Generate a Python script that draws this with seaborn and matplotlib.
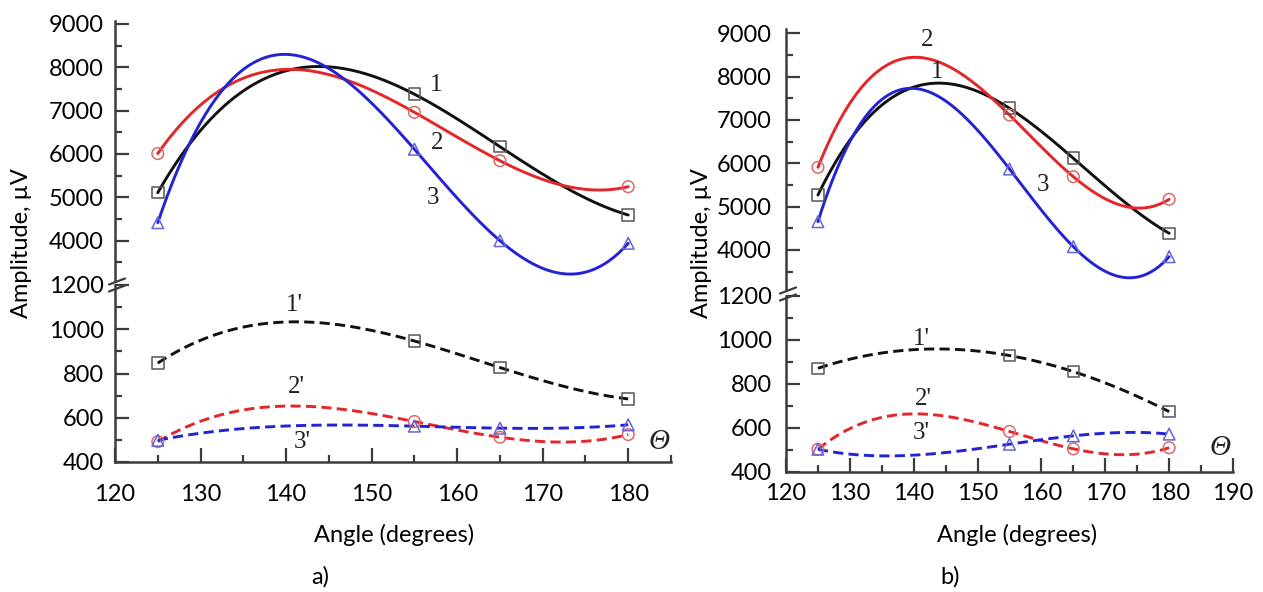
import seaborn as sns
import matplotlib.pyplot as plt
from matplotlib.lines import Line2D
from matplotlib.ticker import MultipleLocator

# angles where the amplitudes were measured (degrees)
angles = [125, 155, 165, 180]

# panel a) amplitudes, uV
a_amp1 = [5107, 7380, 6169, 4592]
a_amp2 = [6010, 6962, 5845, 5245]
a_amp3 = [4414, 6110, 3999, 3939]
a_amp1p = [847, 947, 827, 685]
a_amp2p = [492, 583, 512, 524]
a_amp3p = [498, 562, 553, 568]

# panel b) amplitudes, uV
b_amp1 = [5268, 7269, 6115, 4384]
b_amp2 = [5907, 7114, 5690, 5169]
b_amp3 = [4652, 5868, 4075, 3844]
b_amp1p = [869, 927, 854, 672]
b_amp2p = [501, 582, 503, 508]
b_amp3p = [501, 524, 562, 570]

upper_ticks = [4000, 5000, 6000, 7000, 8000, 9000]
lower_ticks = [400, 600, 800, 1000, 1200]
a_xticks = [120, 130, 140, 150, 160, 170, 180]
b_xticks = [120, 130, 140, 150, 160, 170, 180, 190]

W, H = 1263, 592
BLACK, RED, BLUE = "#111111", "#e2262a", "#2323d4"
EDGES = {"s": "#555555", "o": "#e06868", "^": "#6464d8"}
SPINE = "#3c3c3c"
FS = 17


def px_axes(fig, left, right, top, bottom):
    ax = fig.add_axes([left / W, 1 - bottom / H, (right - left) / W, (bottom - top) / H])
    ax.set_facecolor("none")
    return ax


def curve(ax, y, color, marker, dashed=False):
    ls = (0, (3.5, 1.8)) if dashed else "-"
    sns.regplot(x=angles, y=y, ax=ax, order=3, ci=None, truncate=True,
                color=color, marker=marker,
                scatter_kws=dict(s=70, facecolors="none", edgecolors=EDGES[marker],
                                 linewidths=1.1, alpha=1, zorder=3),
                line_kws=dict(color=color, lw=2.1, ls=ls, zorder=2))


def style(ax, upper, xlim, xticks, ylim, ypad, xpad):
    ax.set_xlim(*xlim)
    ax.set_ylim(*ylim)
    for s in ["top", "right"]:
        ax.spines[s].set_visible(False)
    for s in ["left", "bottom"]:
        ax.spines[s].set_color(SPINE)
        ax.spines[s].set_linewidth(1.8)
    ax.tick_params(which="both", direction="in", color=SPINE, width=1.6,
                   left=True, bottom=not upper,
                   labelsize=FS, labelcolor="#000000")
    ax.tick_params(which="major", length=10)
    ax.tick_params(which="minor", length=5)
    ax.tick_params(axis="y", pad=ypad)
    ax.set_xlabel("")
    ax.set_ylabel("")
    if upper:
        ax.spines["bottom"].set_visible(False)
        ax.tick_params(axis="x", which="both", bottom=False, labelbottom=False)
        ax.set_yticks(upper_ticks)
        ax.yaxis.set_minor_locator(MultipleLocator(500))
    else:
        ax.set_xticks(xticks)
        ax.xaxis.set_minor_locator(MultipleLocator(5))
        ax.tick_params(axis="x", pad=xpad)
        ax.set_yticks(lower_ticks)
        ax.yaxis.set_minor_locator(MultipleLocator(100))


def serif(ax, x, y, s, italic=False, size=18):
    ax.text(x, y, s, ha="center", va="center", fontsize=size, color="#222222",
            family=["Liberation Serif", "DejaVu Serif"],
            style="italic" if italic else "normal")


def break_marks(fig, x, yc):
    for dy in (-3.5, 3.5):
        fig.add_artist(Line2D([(x - 8) / W, (x + 8) / W],
                              [1 - (yc + dy + 3) / H, 1 - (yc + dy - 3) / H],
                              color=SPINE, lw=1.6))


def plot():
    sns.set_theme(style="white")
    plt.rcParams["font.family"] = ["Lato", "DejaVu Sans"]

    fig = plt.figure(figsize=(W / 100, H / 100), dpi=100)

    # ---- panel a)
    au = px_axes(fig, 115, 671, 21, 281)
    al = px_axes(fig, 115, 671, 285, 462)
    curve(au, a_amp1, BLACK, "s")
    curve(au, a_amp2, RED, "o")
    curve(au, a_amp3, BLUE, "^")
    curve(al, a_amp1p, BLACK, "s", dashed=True)
    curve(al, a_amp2p, RED, "o", dashed=True)
    curve(al, a_amp3p, BLUE, "^", dashed=True)
    style(au, True, (120, 185), a_xticks, (3069, 9069), 8, 16)
    style(al, False, (120, 185), a_xticks, (400, 1200), 8, 16)
    serif(au, 157.5, 7592, "1")
    serif(au, 157.7, 6254, "2")
    serif(au, 157.2, 4984, "3")
    serif(al, 141.0, 1110, "1'")
    serif(al, 141.2, 739, "2'")
    serif(al, 141.9, 490, "3'")
    serif(al, 183.6, 490, "Θ", italic=True, size=21)
    break_marks(fig, 117, 285)

    # ---- panel b)
    bu = px_axes(fig, 786, 1233, 29, 289)
    bl = px_axes(fig, 786, 1233, 295.5, 471.5)
    curve(bu, b_amp1, BLACK, "s")
    curve(bu, b_amp2, RED, "o")
    curve(bu, b_amp3, BLUE, "^")
    curve(bl, b_amp1p, BLACK, "s", dashed=True)
    curve(bl, b_amp2p, RED, "o", dashed=True)
    curve(bl, b_amp3p, BLUE, "^", dashed=True)
    style(bu, True, (120, 190), b_xticks, (3099, 9099), 10, 8)
    style(bl, False, (120, 190), b_xticks, (400, 1200), 10, 8)
    serif(bu, 142.1, 8845, "2")
    serif(bu, 143.6, 8114, "1")
    serif(bu, 160.2, 5499, "3")
    serif(bl, 141.2, 1004, "1'")
    serif(bl, 141.5, 730, "2'")
    serif(bl, 141.2, 574, "3'")
    serif(bl, 188.0, 507, "Θ", italic=True, size=21)
    break_marks(fig, 788, 294)

    # ---- shared texts
    for x in (22, 702):
        fig.text(x / W, 1 - 243 / H, "Amplitude, µV", rotation=90,
                 ha="center", va="center", fontsize=FS, color="#000000")
    fig.text(394 / W, 1 - 535 / H, "Angle (degrees)", ha="center", va="center",
             fontsize=FS, color="#000000")
    fig.text(1017 / W, 1 - 535 / H, "Angle (degrees)", ha="center", va="center",
             fontsize=FS, color="#000000")
    fig.text(320 / W, 1 - 577 / H, "a)", ha="center", va="center", fontsize=FS,
             color="#000000")
    fig.text(950 / W, 1 - 577 / H, "b)", ha="center", va="center", fontsize=FS,
             color="#000000")

    fig.savefig("out.png", dpi=100, facecolor="white")


if __name__ == '__main__':
    plot()
